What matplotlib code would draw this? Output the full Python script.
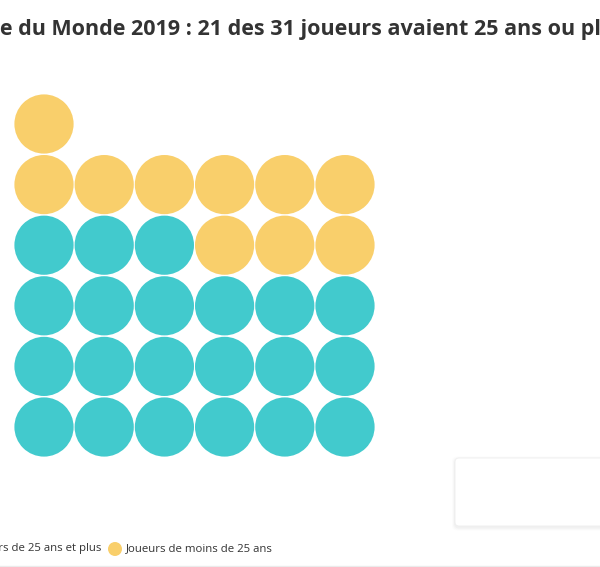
import matplotlib.pyplot as plt
from matplotlib.patches import Circle, FancyBboxPatch

TITLE = "Coupe du Monde 2019 : 21 des 31 joueurs avaient 25 ans ou plus"
TITLE_CUT = "Coup"  # part of the title that falls outside the frame on the left
categories = ["Joueurs de 25 ans et plus", "Joueurs de moins de 25 ans"]
counts = [21, 10]
colors = ["#42CACD", "#F9CF6B"]
n_cols = 6

W, H = 600, 567
fig = plt.figure(figsize=(W / 100, H / 100), dpi=100)
ax = fig.add_axes([0, 0, 1, 1])
ax.set_xlim(0, W)
ax.set_ylim(H, 0)
ax.axis("off")
font = "Open Sans"


def text_width(s, size, weight="normal"):
    t = ax.text(0, 0, s, fontsize=size, fontweight=weight, family=font)
    fig.canvas.draw()
    w = t.get_window_extent().width
    t.remove()
    return w


# waffle of circles, filled from the bottom row upwards, left to right
x0, y0, dx, dy, r = 44, 427, 60.2, 60.6, 29.6
k = 0
for count, color in zip(counts, colors):
    for _ in range(count):
        col, row = k % n_cols, k // n_cols
        ax.add_patch(Circle((x0 + col * dx, y0 - row * dy), r,
                            facecolor=color, edgecolor="none"))
        k += 1

# title, partly clipped on both sides; size chosen so the visible part spans like the reference
ref = "e du Monde 2019 : 21 des 31"
size = 18 * 295 / text_width(ref, 18, "bold")
cut = text_width(TITLE_CUT, size, "bold")
ax.text(-cut, 29, TITLE, fontsize=size, fontweight="bold",
        family=font, color="#333333", va="center", ha="left")

# legend, first item clipped on the left
lsize = 9 * 147 / text_width(categories[1], 9)
x_end = 102
w0 = text_width(categories[0], lsize)
ax.add_patch(Circle((x_end - w0 - 13, 549), 7, facecolor=colors[0], edgecolor="none"))
ax.text(x_end, 549, categories[0], fontsize=lsize, family=font,
        color="#333333", va="center", ha="right")
ax.add_patch(Circle((115, 549), 7, facecolor=colors[1], edgecolor="none"))
ax.text(126, 549, categories[1], fontsize=lsize, family=font,
        color="#333333", va="center", ha="left")

# empty tooltip-like box with soft shadow underneath
for off, a in [(3, 0.012), (2, 0.018), (1, 0.025)]:
    ax.add_patch(FancyBboxPatch((455 - off, 458 - off + 1.5), 160 + 2 * off, 68 + 2 * off,
                                boxstyle="round,pad=0,rounding_size=5",
                                facecolor="#000000", edgecolor="none", alpha=a))
ax.add_patch(FancyBboxPatch((455, 458), 160, 68,
                            boxstyle="round,pad=0,rounding_size=4",
                            facecolor="white", edgecolor="#eeeeee", linewidth=0.6))

# bottom rule
ax.plot([0, W], [565.5, 565.5], color="#ebebeb", linewidth=1)

fig.savefig("out.png", dpi=100)
